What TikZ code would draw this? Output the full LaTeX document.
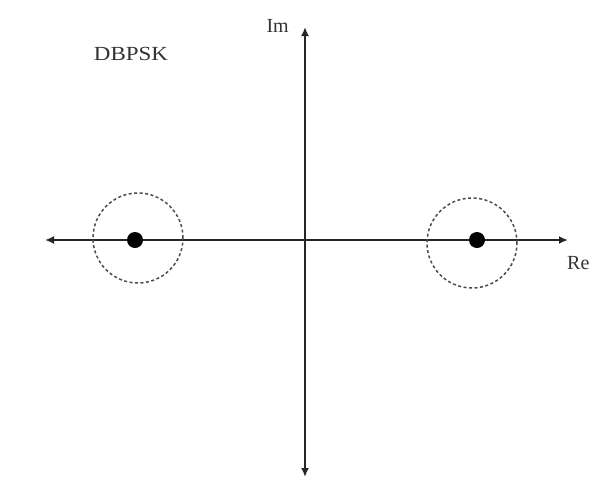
\documentclass[tikz,border=0pt]{standalone}
\usepackage{fontspec}
\setmainfont{Liberation Serif}
\usetikzlibrary{arrows.meta}
\begin{document}
\begin{tikzpicture}[x=1pt,y=-1pt,
  axis/.style={line width=2pt,draw=black!85,-{Latex[length=9pt,width=8pt]}},
  ring/.style={draw=black!70,line width=1.5pt,dash pattern=on 3pt off 2.5pt},
  symb/.style={circle,fill=black,inner sep=0pt,minimum size=16pt},
  lbl/.style={font=\fontsize{20}{20}\selectfont,text=black!80,inner sep=0pt}]
\useasboundingbox[fill=white] (0,0) rectangle (594,480);
\coordinate (o) at (305,240);
\coordinate (xl) at (45,240);
\coordinate (xr) at (568,240);
\coordinate (yt) at (305,27);
\coordinate (yb) at (305,477);
\draw[axis] (o) -- (xr);
\draw[axis] (o) -- (xl);
\draw[axis] (o) -- (yt);
\draw[axis] (o) -- (yb);
\node[ring,circle,minimum size=90pt,inner sep=0pt] (c1) at (138,238) {};
\node[ring,circle,minimum size=90pt,inner sep=0pt] (c2) at (472,243) {};
\node[symb] (s1) at (135,240) {};
\node[symb] (s2) at (477,240) {};
\node[lbl,anchor=east] (im) at (289,26) {Im};
\node[lbl,anchor=west] (re) at (567,263) {Re};
\node[lbl,xscale=1.15] (t) at (131,54) {DBPSK};
\end{tikzpicture}
\end{document}
